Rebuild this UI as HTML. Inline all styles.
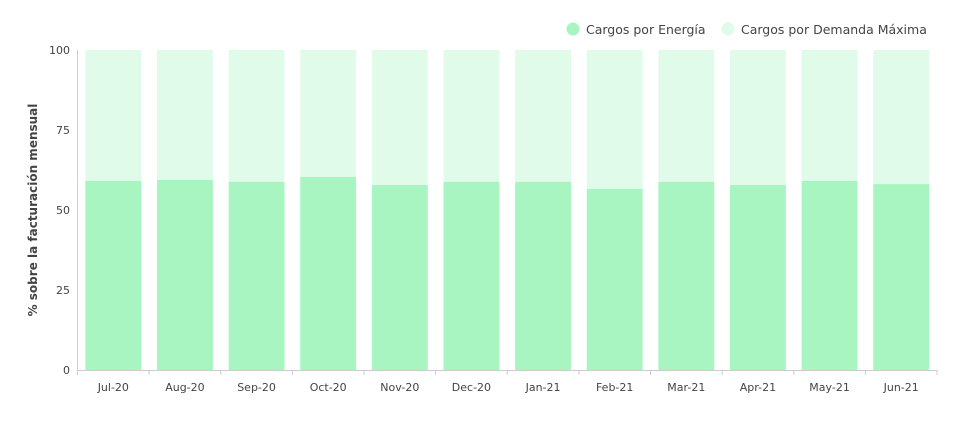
<!DOCTYPE html>
<html><head><meta charset="utf-8"><style>
body{margin:0;background:#fff;font-family:"DejaVu Sans","Liberation Sans",sans-serif;}
svg text{fill:#444;}
</style></head><body>
<svg id="chart" width="957" height="426" xmlns="http://www.w3.org/2000/svg">
<g>
 <g><circle cx="573" cy="29" r="6.5" fill="#a8f5c1"/><text x="586" y="34" font-size="12.5">Cargos por Energía</text></g>
 <g><circle cx="728" cy="29" r="6.5" fill="#e0fbe9"/><text x="741" y="34" font-size="12.5">Cargos por Demanda Máxima</text></g>
</g>
<text transform="translate(37,210) rotate(-90)" text-anchor="middle" font-size="12" font-weight="bold">% sobre la facturación mensual</text>
<g id="bars"></g><g id="axes"></g>
</svg>
<script>
const categories=["Jul-20","Aug-20","Sep-20","Oct-20","Nov-20","Dec-20","Jan-21","Feb-21","Mar-21","Apr-21","May-21","Jun-21"];
const energia=[59.1,59.4,58.8,60.3,57.8,58.8,58.8,56.6,58.8,57.8,59.1,58.1];
const yTicks=[0,25,50,75,100];
const X0=77.5,X1=937,Y0=370,Y1=50;
const ns="http://www.w3.org/2000/svg";
const band=(X1-X0)/categories.length;
const x=i=>X0+i*band;
const y=v=>Y0-(v/100)*(Y0-Y1);
const bars=document.getElementById('bars'),axes=document.getElementById('axes');
function mk(t,a){const e=document.createElementNS(ns,t);for(const k in a)e.setAttribute(k,a[k]);return e;}
categories.forEach((c,i)=>{
 const bw=band*0.78,bx=x(i)+(band-bw)/2,e=energia[i];
 const r1=mk('rect',{x:bx,y:y(100),width:bw,height:y(e)-y(100),fill:'#e0fbe9'});
 
 
 bars.appendChild(r1);
 const r2=mk('rect',{x:bx,y:y(e),width:bw,height:y(0)-y(e),fill:'#a8f5c1'});
 
 
 bars.appendChild(r2);
 const t=mk('text',{x:x(i)+band/2,y:391,'text-anchor':'middle','font-size':'11'});
 t.textContent=c;
 
 
 axes.appendChild(t);
 const tk=mk('line',{x1:x(i+1),x2:x(i+1),y1:Y0,y2:Y0+5,stroke:'#ccc'});
 
 
 axes.appendChild(tk);
});
yTicks.forEach(v=>{
 const t=mk('text',{x:70,y:y(v)+4,'text-anchor':'end','font-size':'11'});
 t.textContent=v;
 
 
 axes.appendChild(t);
});
const ya=mk('line',{x1:X0,x2:X0,y1:Y1,y2:Y0,stroke:'#ccc'});


axes.appendChild(ya);
const xa=mk('line',{x1:X0,x2:X1,y1:Y0+0.5,y2:Y0+0.5,stroke:'#ccc'});


axes.appendChild(xa);
const t0=mk('line',{x1:X0,x2:X0,y1:Y0,y2:Y0+5,stroke:'#ccc'});


axes.appendChild(t0);
</script>
</body></html>
